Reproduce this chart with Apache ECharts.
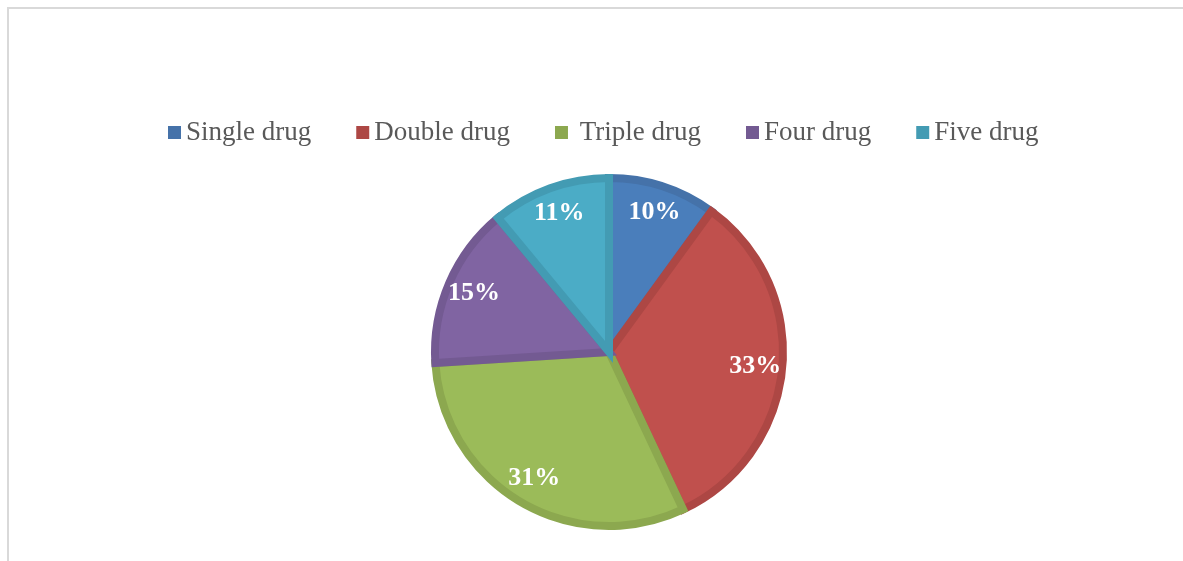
<!DOCTYPE html>
<html>
<head>
<meta charset="utf-8">
<script src="https://cdn.jsdelivr.net/npm/echarts@6/dist/echarts.min.js"></script>
<style>
  html, body { margin: 0; padding: 0; background: #fff; }
  #frame { position: absolute; left: 7px; top: 7px; width: 1200px; height: 600px;
           border-top: 2px solid #d9d9d9; border-left: 2px solid #d9d9d9; }
  #chart { position: absolute; left: 0; top: 0; width: 1183px; height: 561px; }
</style>
</head>
<body>
<div id="frame"></div>
<div id="chart"></div>
<script>
// drug combination share (%)
var categories = ['Single drug', 'Double drug', 'Triple drug', 'Four drug', 'Five drug']
var values = [10, 33, 31, 15, 11]
var fillColors = ['#4a7ebb', '#c0504d', '#9bbb59', '#8064a2', '#4bacc6']
var edgeColors = ['#4572a9', '#ad4744', '#8ca84f', '#735a92', '#439bb3']

var chart = echarts.init(document.getElementById('chart'))

var slices = categories.map(function(name, i) {
  return {
    name: name,
    value: values[i],
    itemStyle: { color: fillColors[i], borderColor: edgeColors[i] }
  }
})

var labelSlices = categories.map(function(name, i) {
  return { name: name, value: values[i] }
})

chart.setOption({
  animation: false,
  legend: {
    data: categories.map(function(name, i) {
      return { name: name, itemStyle: { color: edgeColors[i], borderWidth: 0 } }
    }),
    left: 163,
    top: 114,
    itemWidth: 13,
    itemHeight: 13,
    itemGap: 45,
    icon: 'rect',
    formatter: function(name) {
      // the original has an extra space in front of this one
      return name === 'Triple drug' ? ' ' + name : name
    },
    textStyle: {
      fontFamily: '"Liberation Serif", "DejaVu Serif", serif',
      fontSize: 27,
      color: '#595959'
    }
  },
  series: [
    {
      type: 'pie',
      center: [609, 352],
      radius: [0, 174],
      startAngle: 90,
      clockwise: true,
      silent: true,
      label: { show: false },
      labelLine: { show: false },
      itemStyle: { borderWidth: 8, borderJoin: 'miter' },
      data: slices
    },
    {
      // transparent ring, only carries the value labels
      type: 'pie',
      center: [609, 352],
      radius: [110, 178],
      startAngle: 90,
      clockwise: true,
      silent: true,
      itemStyle: { color: 'rgba(0,0,0,0)', borderWidth: 0 },
      label: {
        show: true,
        position: 'inside',
        formatter: '{c}%',
        color: '#fff',
        fontFamily: '"Liberation Serif", "DejaVu Serif", serif',
        fontWeight: 'bold',
        fontSize: 26
      },
      labelLine: { show: false },
      data: labelSlices
    }
  ]
})
</script>
</body>
</html>
